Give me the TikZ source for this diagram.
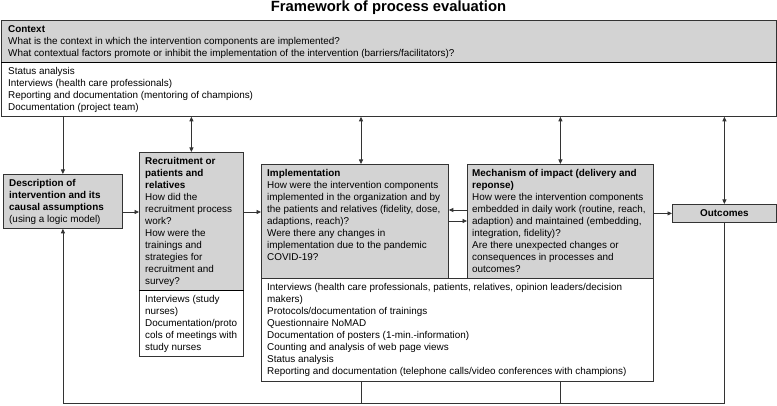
\documentclass[tikz,border=0pt]{standalone}
\usepackage{fontspec}
\setmainfont{Liberation Sans}
\usetikzlibrary{arrows.meta,calc}
\definecolor{boxgray}{HTML}{D3D3D3}
\definecolor{linec}{HTML}{333333}
\begin{document}
\begin{tikzpicture}[x=1pt,y=-1pt,
  gbox/.style={draw=linec, fill=boxgray, line width=0.8pt, inner sep=0pt, anchor=north west},
  wbox/.style={draw=linec, fill=white, line width=0.8pt, inner sep=0pt, anchor=north west},
  txt/.style={anchor=north west, inner sep=0pt, align=left, font=\fontsize{9.9}{12.0}\selectfont},
  sep/.style={draw=black, line width=1.2pt},
  arr/.style={draw=linec, line width=0.8pt, -{Triangle[length=4.5pt,width=4pt]}},
  darr/.style={draw=linec, line width=0.8pt, {Triangle[length=4.5pt,width=4pt]}-{Triangle[length=4.5pt,width=4pt]}},
  ln/.style={draw=linec, line width=0.8pt},
]
\useasboundingbox (0,0) rectangle (777,406);

% title
\node[inner sep=0pt, font=\bfseries\fontsize{14.8}{16}\selectfont] (title) at (388.5,8) {Framework of process evaluation};

% boxes
\node[wbox, minimum width=775pt, minimum height=54pt] (ctxm) at (1,62) {};
\node[gbox, minimum width=775pt, minimum height=42pt] (ctxq) at (1,20) {};
\draw[sep] (ctxq.south west) -- (ctxq.south east);

\node[gbox, minimum width=119pt, minimum height=54pt] (desc) at (3,174) {};

\node[wbox, minimum width=104pt, minimum height=66pt] (recm) at (139,290) {};
\node[gbox, minimum width=104pt, minimum height=138pt] (recq) at (139,152) {};
\draw[sep] (recq.south west) -- (recq.south east);

\node[wbox, minimum width=392pt, minimum height=103pt] (impm) at (261,278) {};
\node[gbox, minimum width=187pt, minimum height=114pt] (impq) at (261,164) {};
\node[gbox, minimum width=186pt, minimum height=114pt] (mechq) at (467,164) {};

\node[gbox, minimum width=104pt, minimum height=18pt, anchor=north west, font=\bfseries\fontsize{9.9}{12.0}\selectfont] (out) at (672,204) {Outcomes};

% texts
\node[txt] (ctxqt) at ($(ctxq.north west)+(7,5.5)$) {\textbf{Context}\\
What is the context in which the intervention components are implemented?\\
What contextual factors promote or inhibit the implementation of the intervention (barriers/facilitators)?};
\node[txt] (ctxmt) at ($(ctxm.north west)+(7,5.5)$) {Status analysis\\
Interviews (health care professionals)\\
Reporting and documentation (mentoring of champions)\\
Documentation (project team)};
\node[txt] (desct) at ($(desc.north west)+(6,5.5)$) {\textbf{Description of}\\
\textbf{intervention and its}\\
\textbf{causal assumptions}\\
(using a logic model)};
\node[txt] (recqt) at ($(recq.north west)+(6,5.5)$) {\textbf{Recruitment or}\\
\textbf{patients and}\\
\textbf{relatives}\\
How did the\\
recruitment process\\
work?\\
How were the\\
trainings and\\
strategies for\\
recruitment and\\
survey?};
\node[txt] (recmt) at ($(recm.north west)+(6,5.5)$) {Interviews (study\\
nurses)\\
Documentation/proto\\
cols of meetings with\\
study nurses};
\node[txt] (impqt) at ($(impq.north west)+(6,5.5)$) {\textbf{Implementation}\\
How were the intervention components\\
implemented in the organization and by\\
the patients and relatives (fidelity, dose,\\
adaptions, reach)?\\
Were there any changes in\\
implementation due to the pandemic\\
COVID-19?};
\node[txt] (mechqt) at ($(mechq.north west)+(5,5.5)$) {\textbf{Mechanism of impact (delivery and}\\
\textbf{reponse)}\\
How were the intervention components\\
embedded in daily work (routine, reach,\\
adaption) and maintained (embedding,\\
integration, fidelity)?\\
Are there unexpected changes or\\
consequences in processes and\\
outcomes?};
\node[txt] (impmt) at ($(impm.north west)+(6,5.5)$) {Interviews (health care professionals, patients, relatives, opinion leaders/decision\\
makers)\\
Protocols/documentation of trainings\\
Questionnaire NoMAD\\
Documentation of posters (1-min.-information)\\
Counting and analysis of web page views\\
Status analysis\\
Reporting and documentation (telephone calls/video conferences with champions)};

% helper coordinates
\coordinate (c361) at (361,0);
\coordinate (ya) at (0,212);
\coordinate (yb) at (0,210);
\coordinate (yc) at (0,221);
\coordinate (ybot) at (0,403);

% connectors
\draw[arr] (desc.north |- ctxm.south) -- (desc.north);
\draw[darr] (recq.north |- ctxm.south) -- (recq.north);
\draw[darr] (c361 |- ctxm.south) -- (c361 |- impq.north);
\draw[darr] (mechq.north |- ctxm.south) -- (mechq.north);
\draw[darr] (out.north |- ctxm.south) -- (out.north);
\draw[arr] (desc.east |- ya) -- (recq.west |- ya);
\draw[arr] (recq.east |- ya) -- (impq.west |- ya);
\draw[arr] (mechq.west |- yb) -- (impq.east |- yb);
\draw[arr] (impq.east |- yc) -- (mechq.west |- yc);
\draw[arr] (mechq.east |- out.west) -- (out.west);
\draw[arr] (out.south) -- (out.south |- ybot) -| (desc.south);
\draw[ln] (c361 |- impm.south) -- (c361 |- ybot);
\draw[ln] (mechq.south |- impm.south) -- (mechq.south |- ybot);
\end{tikzpicture}
\end{document}
